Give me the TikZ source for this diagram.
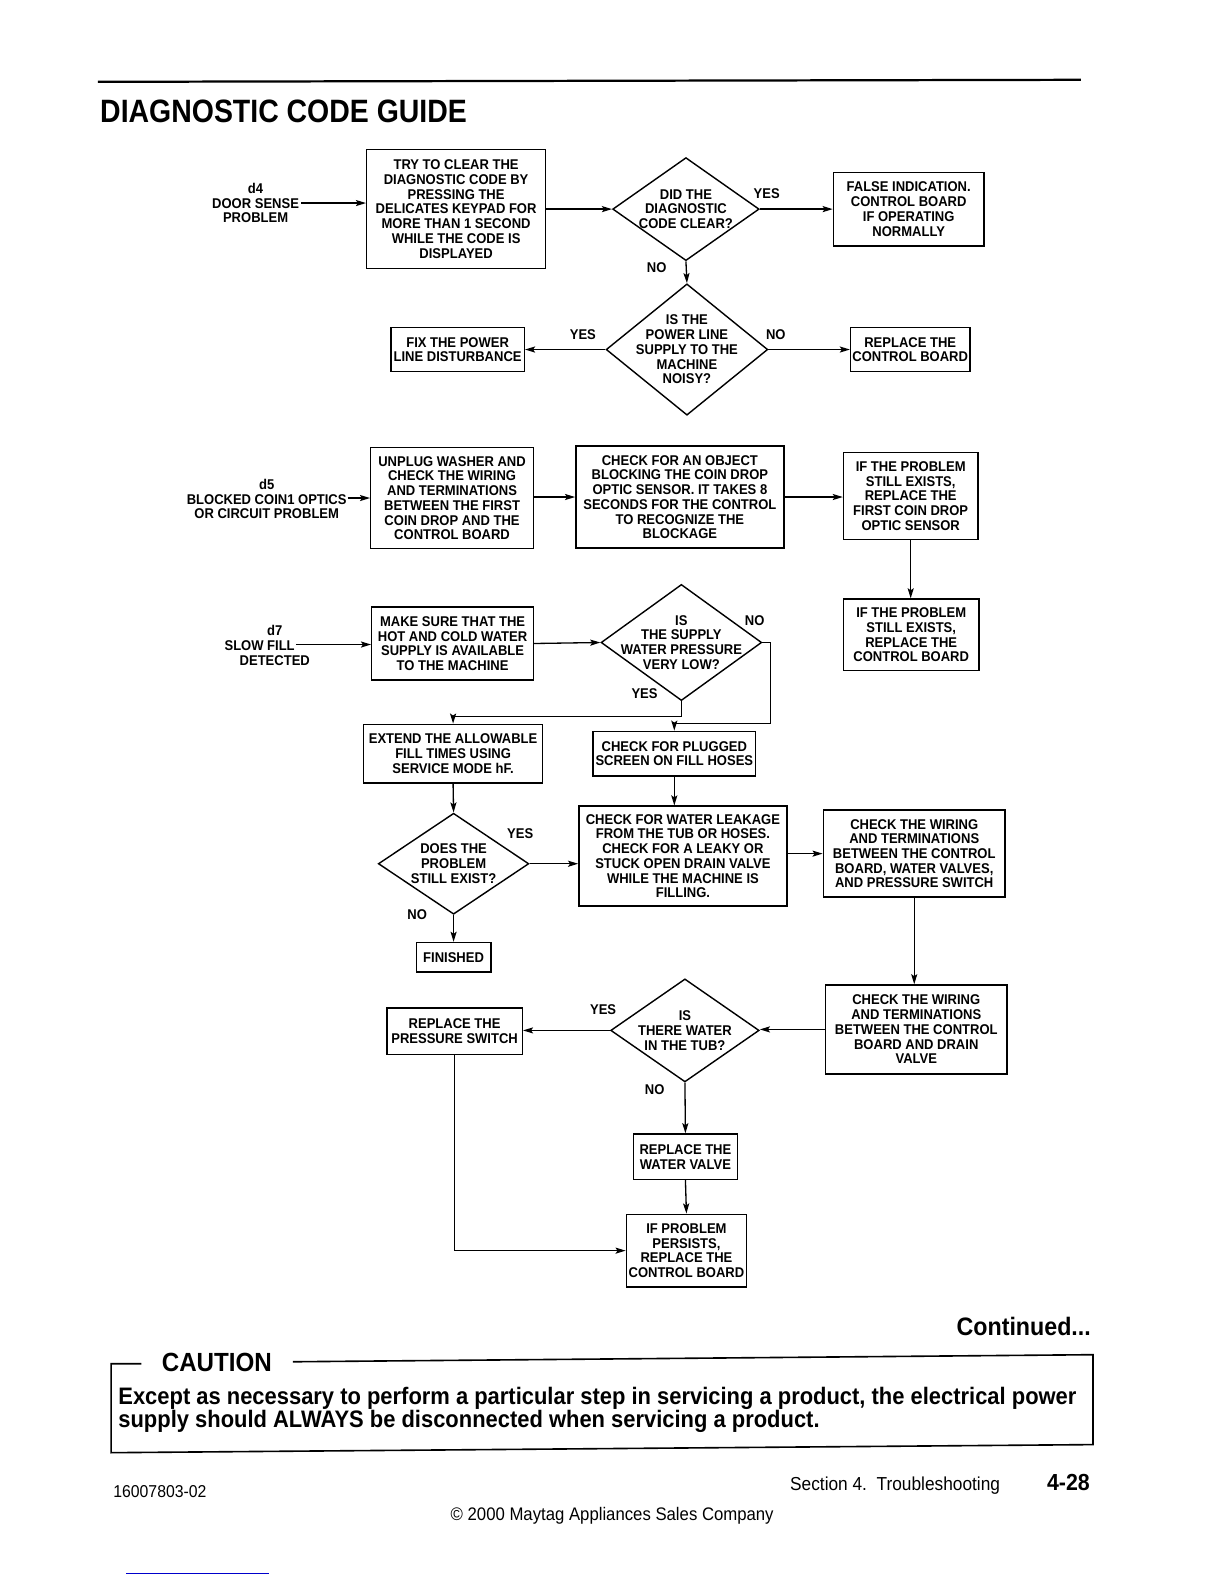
\documentclass[tikz,border=0pt]{standalone}
\usepackage{fontspec}
\setmainfont{Liberation Sans}
\newfontfamily\cfont[FakeStretch=0.92]{Liberation Sans}
\newfontfamily\tfont[FakeStretch=0.88]{Liberation Sans}
\usetikzlibrary{arrows.meta,shapes.geometric}
\tikzset{
  fc/.style={font=\cfont\bfseries\fontsize{14}{14.6}\selectfont, align=center, inner sep=0pt},
  bx/.style args={#1/#2}{fc, draw, rectangle, line width=1.4pt, minimum width=#1pt, minimum height=#2pt},
  dia/.style args={#1/#2}{draw, diamond, line width=1.4pt, minimum width=#1pt, minimum height=#2pt, inner sep=0pt},
  arr/.style={line width=1.3pt, -{Stealth[length=10pt,width=6pt,inset=2pt]}},
  ln/.style={line width=1.2pt},
}
\begin{document}
\begin{tikzpicture}[x=1pt,y=-1pt]
\useasboundingbox (0,0) rectangle (1212,1568);
% header
\draw[line width=2.2pt] (97,81) -- (1070,79);
\node[anchor=base west, font=\tfont\bfseries\fontsize{32}{36}\selectfont, inner sep=0pt] (title) at (99,121) {DIAGNOSTIC CODE GUIDE};

% ---- d4
\node[fc] (d4lab) at (253,201) {d4\\DOOR SENSE\\PROBLEM};
\coordinate (d4s) at (298,201);
\node[bx=177/118] (try) at (451.5,207) {TRY TO CLEAR THE\\DIAGNOSTIC CODE BY\\PRESSING THE\\DELICATES KEYPAD FOR\\MORE THAN 1 SECOND\\WHILE THE CODE IS\\DISPLAYED};
\node[dia=145/102] (q1) at (679,207) {};
\node[fc] (q1t) at (q1) {DID THE\\DIAGNOSTIC\\CODE CLEAR?};
\node[bx=149/73] (false) at (899.5,207) {FALSE INDICATION.\\CONTROL BOARD\\IF OPERATING\\NORMALLY};
\node[dia=160/130] (q2) at (680,346) {};
\node[fc] (q2t) at (q2) {IS THE\\POWER LINE\\SUPPLY TO THE\\MACHINE\\NOISY?};
\node[bx=132/44] (fix) at (453,346) {FIX THE POWER\\LINE DISTURBANCE};
\node[bx=118/44] (repcb1) at (901,346) {REPLACE THE\\CONTROL BOARD};
\node[fc] (y1) at (759,192) {YES};
\node[fc] (n1) at (650,265) {NO};
\node[fc] (y2) at (577,331) {YES};
\node[fc] (n2) at (768,331) {NO};
\draw[arr] (d4s) -- (d4s -| try.west);
\draw[arr] (try.east) -- (q1.west);
\draw[arr] (q1.east) -- (false.west);
\draw[arr] (q1.south) -- (q2.north);
\draw[arr] (q2.west) -- (fix.east);
\draw[arr] (q2.east) -- (repcb1.west);

% ---- d5
\node[fc] (d5lab) at (264,494) {d5\\BLOCKED COIN1 OPTICS\\OR CIRCUIT PROBLEM};
\coordinate (d5s) at (344,493);
\node[bx=161/100] (unplug) at (447.5,493) {UNPLUG WASHER AND\\CHECK THE WIRING\\AND TERMINATIONS\\BETWEEN THE FIRST\\COIN DROP AND THE\\CONTROL BOARD};
\node[bx=206/101] (chkobj) at (673,492) {CHECK FOR AN OBJECT\\BLOCKING THE COIN DROP\\OPTIC SENSOR. IT TAKES 8\\SECONDS FOR THE CONTROL\\TO RECOGNIZE THE\\BLOCKAGE};
\node[bx=133/86] (ifp1) at (901.5,491) {IF THE PROBLEM\\STILL EXISTS,\\REPLACE THE\\FIRST COIN DROP\\OPTIC SENSOR};
\node[bx=134/71] (ifp2) at (902,628.5) {IF THE PROBLEM\\STILL EXISTS,\\REPLACE THE\\CONTROL BOARD};
\draw[arr] (d5s) -- (d5s -| unplug.west);
\draw[arr] (unplug.east |- chkobj.west) -- (chkobj.west);
\draw[arr] (chkobj.east) -- (chkobj.east -| ifp1.west);
\draw[arr] (ifp1.south) -- (ifp1.south |- ifp2.north);

% ---- d7
\node[fc] (d7lab) at (272,639) {d7\\SLOW FILL\rule{30pt}{0pt}\\DETECTED};
\coordinate (d7s) at (293,638);
\node[bx=160/72] (make) at (448,637) {MAKE SURE THAT THE\\HOT AND COLD WATER\\SUPPLY IS AVAILABLE\\TO THE MACHINE};
\node[dia=159/115] (q3) at (674.5,636) {};
\node[fc] (q3t) at (q3) {IS\\THE SUPPLY\\WATER PRESSURE\\VERY LOW?};
\node[fc] (n3) at (747,614) {NO};
\node[fc] (y3) at (638,687) {YES};
\node[bx=177/58] (extend) at (448.5,746) {EXTEND THE ALLOWABLE\\FILL TIMES USING\\SERVICE MODE hF.};
\node[bx=161/44] (plug) at (667.5,746) {CHECK FOR PLUGGED\\SCREEN ON FILL HOSES};
\draw[arr] (d7s) -- (d7s -| make.west);
\draw[arr] (make.east) -- (q3.west);
\draw[arr] (q3.east) -- ++(8,0) |- ([yshift=7pt]plug.north) -- (plug.north);
\draw[arr] (q3.south) -- ++(0,15) -| (extend.north);

\node[dia=149/100] (q4) at (449,855) {};
\node[fc] (q4t) at (q4) {DOES THE\\PROBLEM\\STILL EXIST?};
\node[fc] (y4) at (515,825) {YES};
\node[fc] (n4) at (413,905) {NO};
\node[bx=74/29] (fin) at (449,947.5) {FINISHED};
\node[bx=206/99] (leak) at (676,847.5) {CHECK FOR WATER LEAKAGE\\FROM THE TUB OR HOSES.\\CHECK FOR A LEAKY OR\\STUCK OPEN DRAIN VALVE\\WHILE THE MACHINE IS\\FILLING.};
\node[bx=180/86] (wire1) at (905,845) {CHECK THE WIRING\\AND TERMINATIONS\\BETWEEN THE CONTROL\\BOARD, WATER VALVES,\\AND PRESSURE SWITCH};
\node[bx=180/88] (wire2) at (907,1019) {CHECK THE WIRING\\AND TERMINATIONS\\BETWEEN THE CONTROL\\BOARD AND DRAIN\\VALVE};
\draw[arr] (extend.south) -- (q4.north);
\draw[arr] (q4.east) -- (q4.east -| leak.west);
\draw[arr] (q4.south) -- (fin.north);
\draw[arr] (plug.south) -- (plug.south |- leak.north);
\draw[arr] (wire1.west -| leak.east) -- (wire1.west);
\draw[arr] (wire1.south) -- (wire1.south |- wire2.north);

% ---- water in tub
\node[dia=147/102] (q5) at (678,1020) {};
\node[fc] (q5t) at (q5) {IS\\THERE WATER\\IN THE TUB?};
\node[fc] (y5) at (597,999) {YES};
\node[fc] (n5) at (648,1079) {NO};
\node[bx=134/46] (repps) at (450,1021) {REPLACE THE\\PRESSURE SWITCH};
\node[bx=103/45] (repwv) at (678.5,1145) {REPLACE THE\\WATER VALVE};
\node[bx=119/72] (persist) at (679.5,1238) {IF PROBLEM\\PERSISTS,\\REPLACE THE\\CONTROL BOARD};
\draw[arr] (wire2.west) -- (wire2.west -| q5.east);
\draw[arr] (q5.west) -- (q5.west -| repps.east);
\draw[arr] (q5.south) -- (repwv.north);
\draw[arr] (repwv.south) -- (persist.north);
\draw[arr] (repps.south) |- (persist.west);

% ---- footer
\node[anchor=base east, font=\cfont\bfseries\fontsize{25}{28}\selectfont, inner sep=0pt] (cont) at (1080,1322) {Continued...};
\draw[line width=1.6pt] (140,1350) -- (110,1350) -- (110,1438) -- (1082,1430) -- (1082,1341) -- (290,1348);
\node[anchor=base west, font=\cfont\bfseries\fontsize{26}{28}\selectfont, inner sep=0pt] (caut) at (160,1358) {CAUTION};
\node[anchor=base west, font=\cfont\bfseries\fontsize{23.6}{26}\selectfont, inner sep=0pt] (c1) at (117,1390) {Except as necessary to perform a particular step in servicing a product, the electrical power};
\node[anchor=base west, font=\cfont\bfseries\fontsize{23.6}{26}\selectfont, inner sep=0pt] (c2) at (117,1413) {supply should ALWAYS be disconnected when servicing a product.};
\node[anchor=base west, font=\cfont\fontsize{17}{20}\selectfont, inner sep=0pt] (doc) at (112,1482) {16007803-02};
\node[anchor=base west, font=\cfont\fontsize{18.6}{20}\selectfont, inner sep=0pt] (sec) at (782,1475) {Section 4.\ \ Troubleshooting};
\node[anchor=base east, font=\cfont\bfseries\fontsize{23}{26}\selectfont, inner sep=0pt] (pg) at (1079,1475) {4-28};
\node[anchor=base, font=\cfont\fontsize{18}{20}\selectfont, inner sep=0pt] (copy) at (606,1505) {© 2000 Maytag Appliances Sales Company};
\draw[blue!80!black, line width=1pt] (125,1558) -- (266,1558);
\end{tikzpicture}
\end{document}
